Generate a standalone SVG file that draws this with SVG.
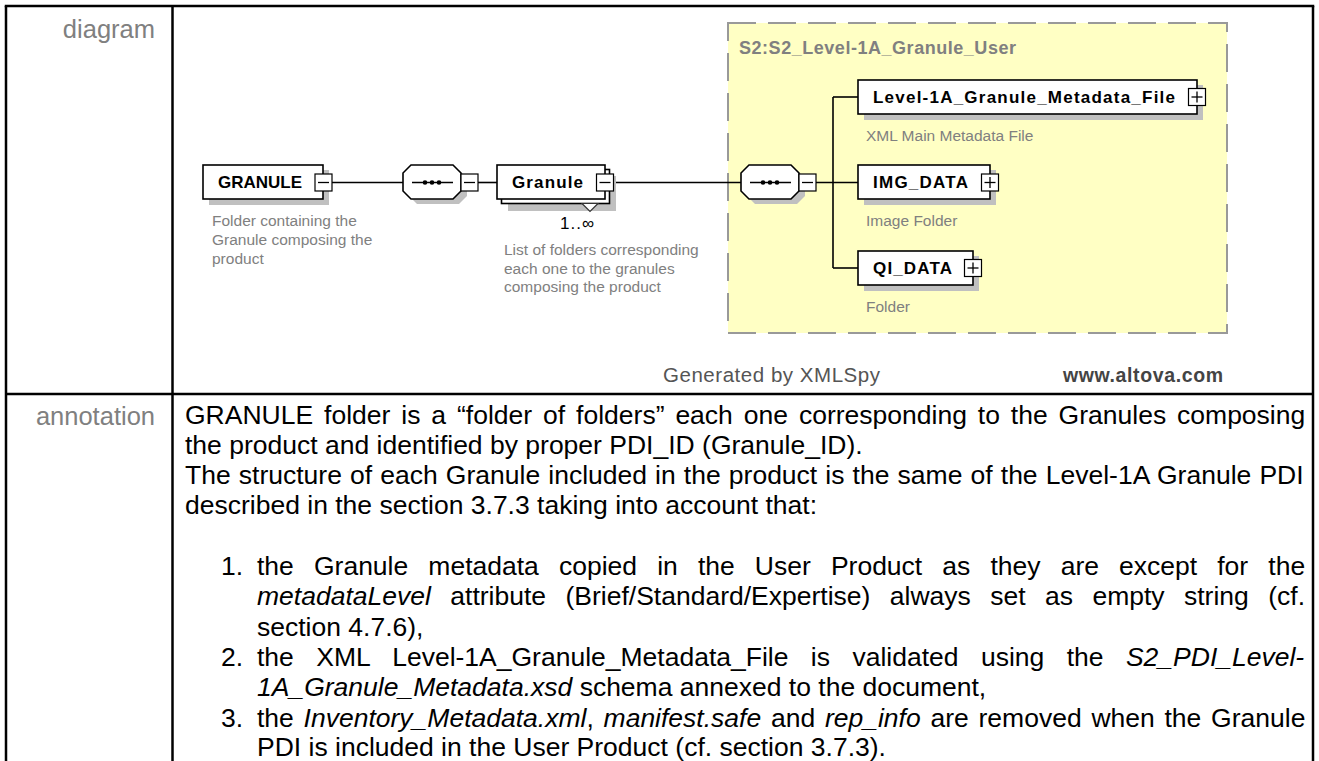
<svg xmlns="http://www.w3.org/2000/svg" width="1319" height="761" viewBox="0 0 1319 761">
<style>
.tb{stroke:#000;stroke-width:2.5;fill:none}
.lbl{font-family:"Liberation Sans",Arial,sans-serif;font-size:25.5px;fill:#808080;text-anchor:end}
.el{fill:#fff;stroke:#000;stroke-width:1.6}
.sh{fill:#c0c0c0}
.en{font-family:"Liberation Sans",Arial,sans-serif;font-weight:bold;font-size:17px;fill:#000}
.ds{font-family:"Liberation Sans",Arial,sans-serif;font-size:15.5px;fill:#808080}
.pm{fill:#fff;stroke:#000;stroke-width:1.2}
.pl{stroke:#000;stroke-width:1.3;fill:none}
.cn{stroke:#000;stroke-width:1.6;fill:none}
.dot{fill:#000}
.an{font-family:"Liberation Sans",Arial,sans-serif;font-size:26.5px;fill:#000}
.it{font-style:italic}
</style>
<g id="table" class="tb">
<line x1="4.75" y1="6" x2="1314.25" y2="6"/>
<line x1="6" y1="6" x2="6" y2="761"/>
<line x1="172.5" y1="6" x2="172.5" y2="761"/>
<line x1="1313" y1="6" x2="1313" y2="761"/>
<line x1="6" y1="394" x2="1313" y2="394"/>
</g>
<text class="lbl" x="155" y="38">diagram</text>
<text class="lbl" x="155" y="425">annotation</text>
<g id="type-box">
<rect x="728" y="23" width="499" height="310" fill="#FFFFC4" stroke="#999" stroke-width="2" stroke-dasharray="28 12"/>
<text x="739" y="53.5" font-family="Liberation Sans, Arial, sans-serif" font-weight="bold" font-size="18" fill="#808080" textLength="277">S2:S2_Level-1A_Granule_User</text>
</g>
<g id="connectors" class="cn">
<path d="M332,182.5 H403"/>
<path d="M478,182.5 H497"/>
<path d="M613,182.5 H741"/>
<path d="M816,182.5 H858"/>
<path d="M833,97 V268"/>
<path d="M833,97 H858"/>
<path d="M833,268 H858"/>
</g>
<g id="GRANULE">
<rect class="sh" x="209" y="170" width="120" height="35"/>
<rect class="el" x="203" y="165" width="120" height="34"/>
<text class="en" x="218" y="188" textLength="84">GRANULE</text>
<rect class="pm" x="315" y="174" width="17" height="17"/>
<line class="pl" x1="318" y1="182.5" x2="329" y2="182.5"/>
<text class="ds" x="212" y="226">Folder containing the</text>
<text class="ds" x="212" y="245">Granule composing the</text>
<text class="ds" x="212" y="263.5">product</text>
</g>
<g id="sequence1">
<polygon class="sh" points="417,170 459,170 467,178 467,196 459,204 417,204 409,196 409,178"/>
<polygon class="el" points="411,165 453,165 461,173 461,191 453,199 411,199 403,191 403,173"/>
<line x1="412" y1="182.5" x2="453" y2="182.5" stroke="#000" stroke-width="1.5"/>
<circle class="dot" cx="425" cy="182.5" r="2.3"/>
<circle class="dot" cx="432" cy="182.5" r="2.3"/>
<circle class="dot" cx="439" cy="182.5" r="2.3"/>
<rect class="pm" x="461" y="174" width="17" height="17"/>
<line class="pl" x1="464" y1="182.5" x2="475" y2="182.5"/>
</g>
<g id="Granule">
<rect class="sh" x="508" y="176" width="108" height="35"/>
<rect class="el" x="501.5" y="169.5" width="108" height="34"/>
<rect class="el" x="497" y="165" width="108" height="34"/>
<polygon points="582,203.5 590,211.5 598,203.5" fill="#fff" stroke="#333" stroke-width="1.2"/>
<text class="en" x="512" y="188" textLength="71">Granule</text>
<rect class="pm" x="596.5" y="174" width="17" height="17"/>
<line class="pl" x1="599.5" y1="182.5" x2="610.5" y2="182.5"/>
<text x="560" y="229" font-family="Liberation Sans, Arial, sans-serif" font-size="17" fill="#000" textLength="34">1..∞</text>
<text class="ds" x="504" y="254.5">List of folders corresponding</text>
<text class="ds" x="504" y="273.5">each one to the granules</text>
<text class="ds" x="504" y="292">composing the product</text>
</g>
<g id="sequence2">
<polygon class="sh" points="755,170 797,170 805,178 805,196 797,204 755,204 747,196 747,178"/>
<polygon class="el" points="749,165 791,165 799,173 799,191 791,199 749,199 741,191 741,173"/>
<line x1="750" y1="182.5" x2="791" y2="182.5" stroke="#000" stroke-width="1.5"/>
<circle class="dot" cx="763" cy="182.5" r="2.3"/>
<circle class="dot" cx="770" cy="182.5" r="2.3"/>
<circle class="dot" cx="777" cy="182.5" r="2.3"/>
<rect class="pm" x="799" y="174" width="17" height="17"/>
<line class="pl" x1="802" y1="182.5" x2="813" y2="182.5"/>
</g>
<g id="Level-1A_Granule_Metadata_File">
<rect class="sh" x="864" y="85" width="339" height="35"/>
<rect class="el" x="858" y="80" width="339" height="34"/>
<text class="en" x="873" y="103" textLength="302">Level-1A_Granule_Metadata_File</text>
<rect class="pm" x="1188.5" y="88.5" width="17" height="17"/>
<line class="pl" x1="1191.5" y1="97" x2="1202.5" y2="97"/>
<line class="pl" x1="1197" y1="91.5" x2="1197" y2="102.5"/>
<text class="ds" x="866" y="140.5">XML Main Metadata File</text>
</g>
<g id="IMG_DATA">
<rect class="sh" x="864" y="170" width="132" height="35"/>
<rect class="el" x="858" y="165" width="132" height="34"/>
<text class="en" x="873" y="188" textLength="95">IMG_DATA</text>
<rect class="pm" x="981.5" y="174" width="17" height="17"/>
<line class="pl" x1="984.5" y1="182.5" x2="995.5" y2="182.5"/>
<line class="pl" x1="990" y1="177" x2="990" y2="188"/>
<text class="ds" x="866" y="226">Image Folder</text>
</g>
<g id="QI_DATA">
<rect class="sh" x="864" y="256" width="115" height="35"/>
<rect class="el" x="858" y="251" width="115" height="34"/>
<text class="en" x="873" y="274" textLength="79">QI_DATA</text>
<rect class="pm" x="964.5" y="259.5" width="17" height="17"/>
<line class="pl" x1="967.5" y1="268" x2="978.5" y2="268"/>
<line class="pl" x1="973" y1="262.5" x2="973" y2="273.5"/>
<text class="ds" x="866" y="311.5">Folder</text>
</g>
<g id="footer">
<text x="663" y="382" font-family="Liberation Sans, Arial, sans-serif" font-size="20.5" fill="#555" textLength="217">Generated by XMLSpy</text>
<text x="1063" y="382" font-family="Liberation Sans, Arial, sans-serif" font-weight="bold" font-size="19.5" fill="#444" textLength="160">www.altova.com</text>
</g>
<g id="annotation" class="an">
<text x="185" y="423.5" word-spacing="3.57">GRANULE folder is a “folder of folders” each one corresponding to the Granules composing</text>
<text x="185" y="453.8">the product and identified by proper PDI_ID (Granule_ID).</text>
<text x="185" y="484.1" word-spacing="0.77">The structure of each Granule included in the product is the same of the Level-1A Granule PDI</text>
<text x="185" y="514.4">described in the section 3.7.3 taking into account that:</text>
<text x="221" y="575">1.</text>
<text x="257" y="575" word-spacing="12.75">the Granule metadata copied in the User Product as they are except for the</text>
<text x="257" y="605.3" word-spacing="12.07"><tspan class="it">metadataLevel</tspan> attribute (Brief/Standard/Expertise) always set as empty string (cf.</text>
<text x="257" y="635.6">section 4.7.6),</text>
<text x="221" y="665.9">2.</text>
<text x="257" y="665.9" word-spacing="15.05">the XML Level-1A_Granule_Metadata_File is validated using the <tspan class="it">S2_PDI_Level-</tspan></text>
<text x="257" y="696.2"><tspan class="it">1A_Granule_Metadata.xsd</tspan> schema annexed to the document,</text>
<text x="221" y="726.5">3.</text>
<text x="257" y="726.5" word-spacing="2.4">the <tspan class="it">Inventory_Metadata.xml</tspan>, <tspan class="it">manifest.safe</tspan> and <tspan class="it">rep_info</tspan> are removed when the Granule</text>
<text x="257" y="756.3">PDI is included in the User Product (cf. section 3.7.3).</text>
</g>
</svg>
